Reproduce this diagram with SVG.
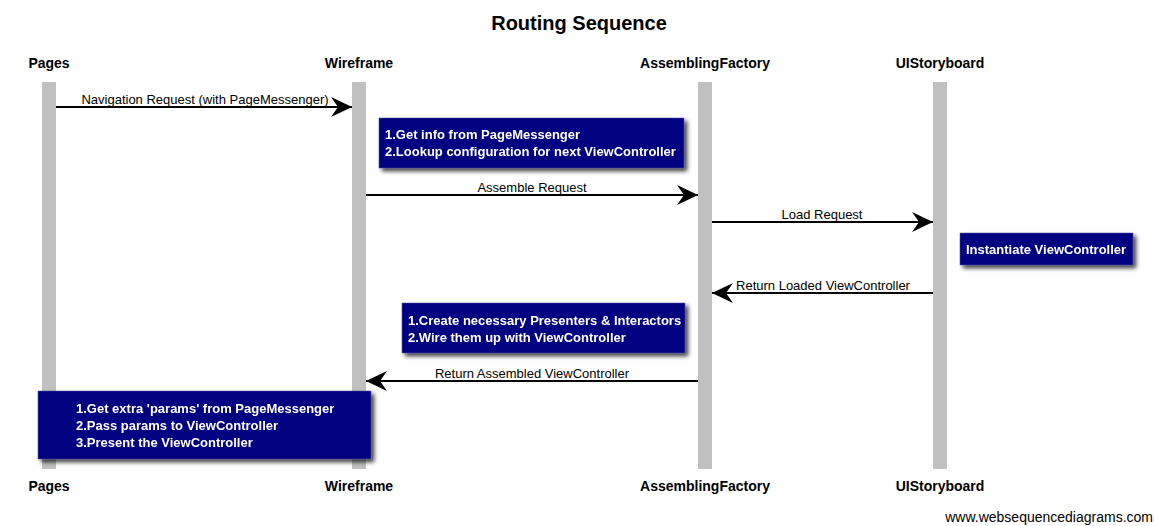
<svg xmlns="http://www.w3.org/2000/svg" width="1155" height="526" viewBox="0 0 1155 526">
<style>
.title{font-family:"Liberation Sans",Arial,sans-serif;font-weight:bold;font-size:20px;fill:#000}
.actor{font-family:"Liberation Sans",Arial,sans-serif;font-weight:bold;font-size:14px;fill:#000}
.life{fill:#c0c0c0}
.msg{stroke:#000;stroke-width:2;fill:none}
.lbl{font-family:"Liberation Sans",Arial,sans-serif;font-size:13px;fill:#000}
.note{fill:#000080;stroke:#5a5aa0;stroke-width:0.5}
.nt{font-family:"Liberation Sans",Arial,sans-serif;font-weight:bold;font-size:13px;fill:#fff}
.foot{font-family:"Liberation Sans",Arial,sans-serif;font-size:14px;fill:#000}
</style>
<defs>
<marker id="ah" markerWidth="24" markerHeight="22" refX="21" refY="10" orient="auto" markerUnits="userSpaceOnUse">
<path d="M0,0 L21,10 L0,20 L7,10 Z" fill="#000"/>
</marker>
<filter id="sh" x="-10%" y="-20%" width="130%" height="160%">
<feGaussianBlur in="SourceAlpha" stdDeviation="2"/>
<feOffset dx="3" dy="3" result="b"/>
<feComponentTransfer><feFuncA type="linear" slope="0.75"/></feComponentTransfer>
<feMerge><feMergeNode/><feMergeNode in="SourceGraphic"/></feMerge>
</filter>
</defs>
<rect width="1155" height="526" fill="#fff"/>
<text class="title" x="579" y="30" text-anchor="middle">Routing Sequence</text>

<g id="pages">
<rect class="life" x="42" y="82" width="14" height="387"/>
<text class="actor" x="49" y="68" text-anchor="middle">Pages</text>
<text class="actor" x="49" y="491" text-anchor="middle">Pages</text>
</g>
<g id="wireframe">
<rect class="life" x="352" y="82" width="14" height="387"/>
<text class="actor" x="359" y="68" text-anchor="middle">Wireframe</text>
<text class="actor" x="359" y="491" text-anchor="middle">Wireframe</text>
</g>
<g id="assemblingfactory">
<rect class="life" x="698" y="82" width="14" height="387"/>
<text class="actor" x="705" y="68" text-anchor="middle">AssemblingFactory</text>
<text class="actor" x="705" y="491" text-anchor="middle">AssemblingFactory</text>
</g>
<g id="uistoryboard">
<rect class="life" x="933" y="82" width="14" height="387"/>
<text class="actor" x="940" y="68" text-anchor="middle">UIStoryboard</text>
<text class="actor" x="940" y="491" text-anchor="middle">UIStoryboard</text>
</g>

<g id="connectors">
<line class="msg" x1="56" y1="107" x2="352" y2="107" marker-end="url(#ah)"/>
<text class="lbl" x="205" y="104" text-anchor="middle">Navigation Request (with PageMessenger)</text>
<line class="msg" x1="366" y1="195" x2="698" y2="195" marker-end="url(#ah)"/>
<text class="lbl" x="532" y="192" text-anchor="middle">Assemble Request</text>
<line class="msg" x1="712" y1="222" x2="933" y2="222" marker-end="url(#ah)"/>
<text class="lbl" x="822" y="219" text-anchor="middle">Load Request</text>
<line class="msg" x1="933" y1="293" x2="712" y2="293" marker-end="url(#ah)"/>
<text class="lbl" x="823" y="290" text-anchor="middle">Return Loaded ViewController</text>
<line class="msg" x1="698" y1="381" x2="366" y2="381" marker-end="url(#ah)"/>
<text class="lbl" x="532" y="378" text-anchor="middle">Return Assembled ViewController</text>
</g>

<g id="note1" filter="url(#sh)">
<rect class="note" x="379" y="118" width="305" height="50"/>
<text class="nt" x="385" y="139">1.Get info from PageMessenger</text>
<text class="nt" x="385" y="156">2.Lookup configuration for next ViewController</text>
</g>
<g id="note2" filter="url(#sh)">
<rect class="note" x="960" y="233" width="173" height="32"/>
<text class="nt" x="966" y="254">Instantiate ViewController</text>
</g>
<g id="note3" filter="url(#sh)">
<rect class="note" x="402" y="303" width="283" height="50"/>
<text class="nt" x="408" y="325">1.Create necessary Presenters &amp; Interactors</text>
<text class="nt" x="408" y="342">2.Wire them up with ViewController</text>
</g>
<g id="note4" filter="url(#sh)">
<rect class="note" x="38" y="391" width="333" height="68"/>
<text class="nt" x="76" y="413">1.Get extra 'params' from PageMessenger</text>
<text class="nt" x="76" y="430">2.Pass params to ViewController</text>
<text class="nt" x="76" y="447">3.Present the ViewController</text>
</g>

<text class="foot" x="1153" y="522" text-anchor="end">www.websequencediagrams.com</text>
</svg>
